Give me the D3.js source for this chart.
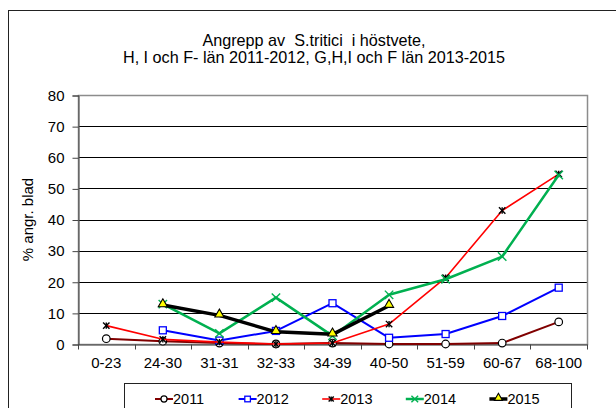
<!DOCTYPE html>
<html>
  <head>
    <script src="https://d3js.org/d3.v7.min.js"></script>
    <style>
      body { margin: 0; background: #fff; }
      text { font-family: "Liberation Sans", Arial, sans-serif; fill: #000; white-space: pre; }
    </style>
  </head>
  <body>
    <svg id="chart" width="616" height="408"></svg>

    <script>
      // data
      const categories = ["0-23", "24-30", "31-31", "32-33", "34-39", "40-50", "51-59", "60-67", "68-100"];
      const years = ["2011", "2012", "2013", "2014", "2015"];
      const v2011 = [1.7, 0.9, 0.3, 0, 0.3, 0, 0, 0.3, 7.1];
      const v2012 = [null, 4.4, 1.1, 4.2, 13.1, 2.0, 3.2, 9.0, 18.1];
      const v2013 = [5.9, 1.5, 0.6, 0, 0.3, 6.4, 21.3, 42.9, 54.6];
      const v2014 = [null, 12.8, 3.4, 14.9, 2.6, 15.8, 20.8, 28.1, 54.3];
      const v2015 = [null, 12.5, 9.2, 3.9, 3.1, 12.3, null, null, null];
      const yTicks = [0, 10, 20, 30, 40, 50, 60, 70, 80];

      const series = [
        { name: years[0], values: v2011, color: "#800000", width: 2, marker: "circle" },
        { name: years[1], values: v2012, color: "#0000ff", width: 2, marker: "square" },
        { name: years[2], values: v2013, color: "#ff0000", width: 1.6, marker: "star" },
        { name: years[3], values: v2014, color: "#00b050", width: 2.5, marker: "x" },
        { name: years[4], values: v2015, color: "#000000", width: 3.5, marker: "triangle" }
      ];

      var svg = d3.select("#chart");

      // outer frame
      svg.append("rect")
        .attr("x", 8.5).attr("y", 10.5)
        .attr("width", 640).attr("height", 420)
        .attr("fill", "none").attr("stroke", "#222");

      var pLeft = 78, pRight = 587, pTop = 95, pBottom = 344;

      var x = d3.scaleBand().domain(categories).range([pLeft, pRight]).padding(0);
      var y = d3.scaleLinear().domain([0, 80]).range([pBottom, pTop]);
      var cx = function(c) { return x(c) + x.bandwidth() / 2; };

      // title
      svg.append("text").attr("x", 314).attr("y", 46).attr("text-anchor", "middle")
        .style("font-size", "16.2px").text("Angrepp av  S.tritici  i höstvete,");
      svg.append("text").attr("x", 314).attr("y", 63).attr("text-anchor", "middle")
        .style("font-size", "16.2px").text("H, I och F- län 2011-2012, G,H,I och F län 2013-2015");

      // gridlines
      svg.append("g").selectAll("line")
        .data(yTicks.filter(function(d) { return d > 0; }))
        .enter().append("line")
        .attr("x1", pLeft).attr("x2", pRight)
        .attr("y1", function(d) { return Math.round(y(d)) + 0.5; })
        .attr("y2", function(d) { return Math.round(y(d)) + 0.5; })
        .attr("stroke", "#000").attr("stroke-width", 1);

      // plot border
      svg.append("rect")
        .attr("x", pLeft + 0.5).attr("y", Math.round(pTop) + 0.5)
        .attr("width", pRight - pLeft).attr("height", pBottom - pTop)
        .attr("fill", "none").attr("stroke", "#8c8c8c").attr("stroke-width", 1.5);

      // y axis
      var yAxis = svg.append("g")
        .attr("transform", "translate(" + (pLeft + 0.5) + ",0.5)")
        .call(d3.axisLeft(y).tickValues(yTicks).tickSize(6).tickPadding(8));
      yAxis.select(".domain").attr("stroke", "#444");
      yAxis.selectAll(".tick line").attr("stroke", "#444");
      yAxis.selectAll("text").style("font-size", "15px")
        .style("font-family", "'Liberation Sans', Arial, sans-serif");

      // x axis with tick marks between categories
      var xAxis = svg.append("g")
        .attr("transform", "translate(0," + (pBottom + 0.5) + ")")
        .call(d3.axisBottom(x).tickSize(0).tickPadding(13));
      xAxis.select(".domain").attr("stroke", "#444");
      xAxis.selectAll("text").style("font-size", "15px")
        .style("font-family", "'Liberation Sans', Arial, sans-serif");
      xAxis.selectAll(".bound")
        .data(categories.concat(["end"]))
        .enter().append("line")
        .attr("x1", function(d, i) { return Math.round(pLeft + i * x.bandwidth()) + 0.5; })
        .attr("x2", function(d, i) { return Math.round(pLeft + i * x.bandwidth()) + 0.5; })
        .attr("y1", 0).attr("y2", 5)
        .attr("stroke", "#444");

      // y label
      svg.append("text")
        .attr("transform", "translate(33," + ((pTop + pBottom) / 2) + ") rotate(-90)")
        .attr("text-anchor", "middle")
        .style("font-size", "15px")
        .text("% angr. blad");

      function drawMarker(g, s, px, py, scale) {
        var k = scale || 1;
        if (s.marker === "circle") {
          g.append("circle").attr("cx", px).attr("cy", py).attr("r", 3.8 * k)
            .attr("fill", "#fff").attr("stroke", "#000").attr("stroke-width", 1.2);
        } else if (s.marker === "square") {
          g.append("rect").attr("x", px - 3.5 * k).attr("y", py - 3.5 * k)
            .attr("width", 7 * k).attr("height", 7 * k)
            .attr("fill", "#fff").attr("stroke", "#0000ff").attr("stroke-width", 1.3);
        } else if (s.marker === "star") {
          var r = 3.2 * k;
          var sg = g.append("g").attr("transform", "translate(" + px + "," + py + ")")
            .attr("stroke", "#000").attr("stroke-width", 1.4);
          sg.append("line").attr("x1", -r).attr("y1", -r).attr("x2", r).attr("y2", r);
          sg.append("line").attr("x1", -r).attr("y1", r).attr("x2", r).attr("y2", -r);
          sg.append("line").attr("x1", 0).attr("y1", -r).attr("x2", 0).attr("y2", r);
        } else if (s.marker === "x") {
          var q = 4.2 * k;
          var xg = g.append("g").attr("transform", "translate(" + px + "," + py + ")")
            .attr("stroke", "#00b050").attr("stroke-width", 1.4);
          xg.append("line").attr("x1", -q).attr("y1", -q).attr("x2", q).attr("y2", q);
          xg.append("line").attr("x1", -q).attr("y1", q).attr("x2", q).attr("y2", -q);
        } else if (s.marker === "triangle") {
          g.append("path").attr("transform", "translate(" + px + "," + (py - 1) + ")")
            .attr("d", d3.symbol(d3.symbolTriangle, 36 * k)())
            .attr("fill", "#ffff00").attr("stroke", "#000").attr("stroke-width", 1.1);
        }
      }

      var line = d3.line()
        .defined(function(d) { return d.v !== null; })
        .x(function(d) { return cx(d.c); })
        .y(function(d) { return y(d.v); });

      series.forEach(function(s) {
        var pts = categories.map(function(c, i) { return { c: c, v: s.values[i] }; });
        var g = svg.append("g");
        g.append("path")
          .datum(pts)
          .attr("d", line)
          .attr("fill", "none")
          .attr("stroke", s.color)
          .attr("stroke-width", s.width)
          .attr("stroke-linejoin", "round");
        pts.filter(function(d) { return d.v !== null; }).forEach(function(d) {
          drawMarker(g, s, cx(d.c), y(d.v));
        });
      });

      // legend
      svg.append("rect")
        .attr("x", 124.5).attr("y", 383.5)
        .attr("width", 447).attr("height", 40)
        .attr("fill", "#fff").attr("stroke", "#222");

      var legend = svg.append("g");
      series.forEach(function(s, i) {
        var lx = 155 + i * 83.6;
        var ly = 399;
        legend.append("line")
          .attr("x1", lx).attr("x2", lx + 18)
          .attr("y1", ly).attr("y2", ly)
          .attr("stroke", s.color).attr("stroke-width", s.width);
        drawMarker(legend, s, lx + 9, ly, 0.8);
        legend.append("text")
          .attr("x", lx + 18).attr("y", ly + 5)
          .style("font-size", "14.5px")
          .text(s.name);
      });
    </script>
  </body>
</html>
